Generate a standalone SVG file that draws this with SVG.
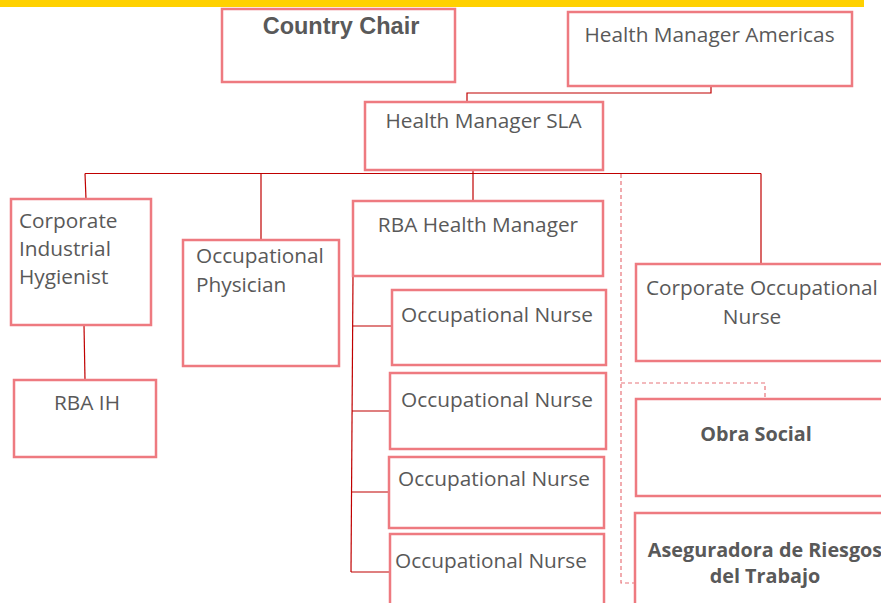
<svg xmlns="http://www.w3.org/2000/svg" width="881" height="603" viewBox="0 0 881 603">
<style>
.box{fill:#fff;stroke:#EE7A80;stroke-width:2.5}
.t{font-family:"Open Sans","Noto Sans",sans-serif;font-size:20.8px;fill:#595959}
.b{font-family:"Open Sans","Noto Sans",sans-serif;font-size:19.8px;font-weight:bold;fill:#595959}
.ln{fill:none;stroke:#C00000;stroke-width:1.2}
.dl{fill:none;stroke:#E8747A;stroke-width:1.2;stroke-dasharray:4 3}
</style>
<rect x="0" y="0" width="864" height="7" fill="#FFD100"/>
<g id="connectors">
<path class="ln" d="M711,86 V93 H467 V102"/>
<path class="ln" d="M85,173.5 H761"/>
<path class="ln" d="M473,170 V201"/>
<path class="ln" d="M85,173.5 L86,199"/>
<path class="ln" d="M261,173.5 V240"/>
<path class="ln" d="M761,173.5 V264"/>
<path class="ln" d="M84,325 L85,380"/>
<path class="ln" d="M353,276 L351,572"/>
<path class="ln" d="M352.5,326 H392"/>
<path class="ln" d="M352,411 H390"/>
<path class="ln" d="M351.5,492 H389"/>
<path class="ln" d="M351,572 H390"/>
<path class="dl" d="M621,174 V583 H636"/>
<path class="dl" d="M621,383 H765 V399"/>
</g>
<g id="country-chair">
<rect class="box" x="222" y="9" width="233" height="73"/>
<text x="341" y="34" text-anchor="middle" style="font-family:'Liberation Sans',Arial,sans-serif;font-size:23.5px;font-weight:bold;fill:#595959">Country Chair</text>
</g>
<g id="hm-americas">
<rect class="box" x="568" y="12" width="284" height="74"/>
<text class="t" x="709.5" y="42" text-anchor="middle">Health Manager Americas</text>
</g>
<g id="hm-sla">
<rect class="box" x="365" y="102" width="238" height="68"/>
<text class="t" x="483.5" y="128" text-anchor="middle">Health Manager SLA</text>
</g>
<g id="cih">
<rect class="box" x="11" y="199" width="140" height="126"/>
<text class="t" x="19" y="228">Corporate</text>
<text class="t" x="19" y="256">Industrial</text>
<text class="t" x="19" y="284">Hygienist</text>
</g>
<g id="rba-ih">
<rect class="box" x="14" y="380" width="142" height="77"/>
<text class="t" x="87" y="410" text-anchor="middle">RBA IH</text>
</g>
<g id="occ-physician">
<rect class="box" x="183" y="240" width="156" height="126"/>
<text class="t" x="196" y="263">Occupational</text>
<text class="t" x="196" y="292">Physician</text>
</g>
<g id="rba-hm">
<rect class="box" x="353" y="201" width="250" height="75"/>
<text class="t" x="478" y="232" text-anchor="middle">RBA Health Manager</text>
</g>
<g id="nurse1">
<rect class="box" x="392" y="290" width="214" height="75"/>
<text class="t" x="497" y="322" text-anchor="middle">Occupational Nurse</text>
</g>
<g id="nurse2">
<rect class="box" x="390" y="373" width="216" height="76"/>
<text class="t" x="497" y="407" text-anchor="middle">Occupational Nurse</text>
</g>
<g id="nurse3">
<rect class="box" x="389" y="457" width="215" height="71"/>
<text class="t" x="494" y="486" text-anchor="middle">Occupational Nurse</text>
</g>
<g id="nurse4">
<rect class="box" x="390" y="534" width="214" height="80"/>
<text class="t" x="491" y="568" text-anchor="middle">Occupational Nurse</text>
</g>
<g id="corp-occ-nurse">
<rect class="box" x="636" y="264" width="260" height="97"/>
<text class="t" x="646" y="295">Corporate Occupational</text>
<text class="t" x="752" y="324" text-anchor="middle">Nurse</text>
</g>
<g id="obra-social">
<rect class="box" x="636" y="399" width="260" height="97"/>
<text class="b" x="756" y="441" text-anchor="middle">Obra Social</text>
</g>
<g id="art">
<rect class="box" x="635" y="513" width="260" height="100"/>
<text class="b" x="765" y="557" text-anchor="middle">Aseguradora de Riesgos</text>
<text class="b" x="765" y="583" text-anchor="middle">del Trabajo</text>
</g>
</svg>
